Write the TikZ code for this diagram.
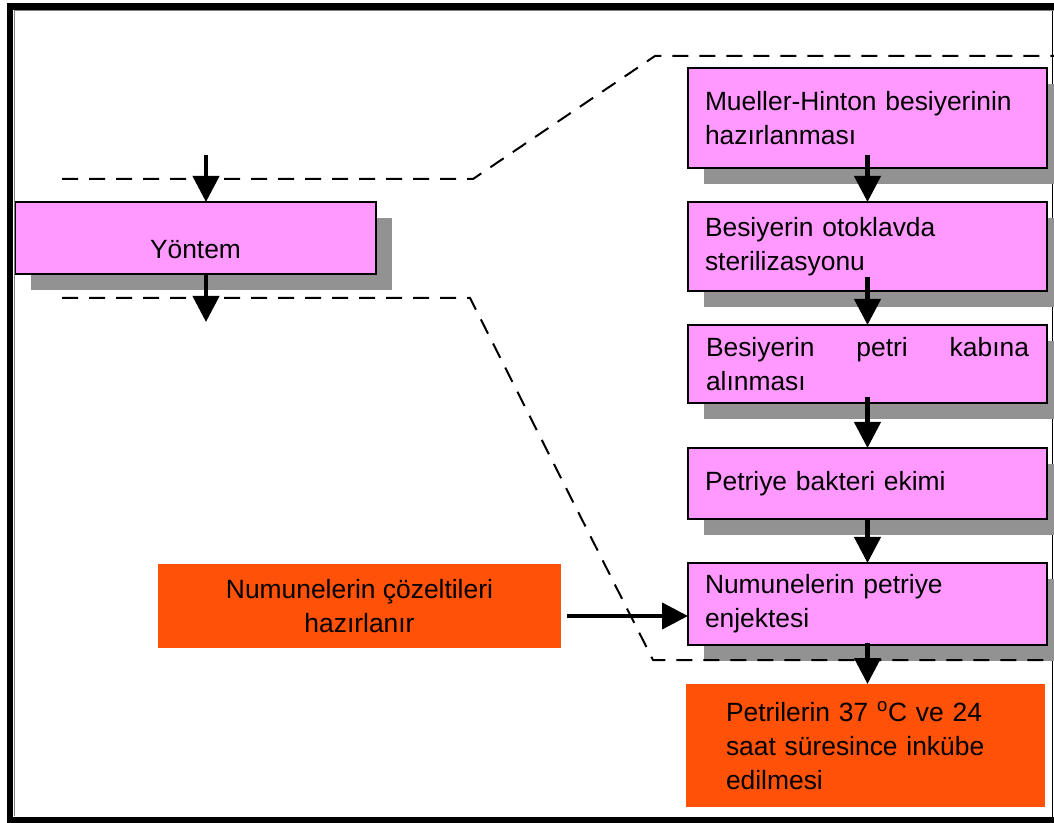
\documentclass[tikz,border=0pt]{standalone}
\usepackage{fontspec}
\setmainfont{Liberation Sans}
\usetikzlibrary{arrows.meta,backgrounds}
\definecolor{boxpink}{RGB}{255,153,255}
\definecolor{boxshadow}{RGB}{146,146,146}
\definecolor{boxorange}{RGB}{255,81,7}
\begin{document}
\begin{tikzpicture}[x=0.75pt,y=-0.75pt,
  every node/.style={font=\fontsize{19.8pt}{25.5pt}\selectfont, inner sep=0pt, outer sep=0pt},
  pinkbox/.style={draw=black, line width=1.5pt, fill=boxpink, anchor=north west},
  stepcol/.style={pinkbox, minimum width=359*0.75pt, text width=325*0.75pt, align=left},
  orangebox/.style={fill=boxorange, anchor=north west},
  flow/.style={line width=3.2pt, -{Triangle[width=19.5pt,length=19.5pt]}},
  guide/.style={line width=1.5pt, dash pattern=on 12pt off 8.25pt},
]
\useasboundingbox (0,0) rectangle (1054,823);
\clip (0,0) rectangle (1054,823);

% step boxes of the procedure
\node[stepcol, minimum height=100*0.75pt] (b1) at (688,68) {Mueller-Hinton besiyerinin\\hazırlanması};
\node[stepcol, minimum height=89*0.75pt] (b2) at (688,202) {Besiyerin otoklavda\\sterilizasyonu};
\node[pinkbox, minimum width=359*0.75pt, minimum height=78*0.75pt, text width=323*0.75pt, align=justify] (b3) at (688,325) {Besiyerin petri kabına\linebreak alınması};
\node[stepcol, minimum height=71*0.75pt] (b4) at (688,448) {Petriye bakteri ekimi};
\node[stepcol, minimum height=82*0.75pt] (b5) at (688,563) {Numunelerin petriye\\enjektesi};

% method box
\node[pinkbox, minimum width=361*0.75pt, minimum height=72*0.75pt, text height=45*0.75pt, text depth=3*0.75pt] (yontem) at (15,202) {Yöntem};

% orange boxes
\node[orangebox, minimum width=403*0.75pt, minimum height=84*0.75pt, align=center] (prep) at (158,564) {Numunelerin çözeltileri\\hazırlanır};
\node[orangebox, minimum width=359*0.75pt, minimum height=123*0.75pt, text width=279*0.75pt, align=left] (incub) at (686,684) {Petrilerin 37 \textsuperscript{o}C ve 24\\saat süresince inkübe\\edilmesi};

% white page, right frame edge and drop shadows
\begin{scope}[on background layer]
  \fill[white] (0,0) rectangle (1054,823);
  \draw[line width=1.2pt] (1052.5,10) -- (1052.5,817);
  \foreach \b in {yontem,b1,b2,b3,b4,b5}
    \fill[boxshadow] ([shift={(16,16)}]\b.north west) rectangle ([shift={(16,16)}]\b.south east);
\end{scope}

% outer frame
\draw[line width=6.5*0.75pt] (1060,6.5) -- (10,6.5) -- (10,820) -- (1060,820);
\draw[gray, line width=0.75pt] (14,11) -- (1054,11);
\draw[gray, line width=0.75pt] (14.5,11) -- (14.5,816);

% dashed zoom-out guides
\draw[guide] (62,179) -- (473,179) -- (655,56) -- (1060,56);
\draw[guide] (62,298) -- (470,298) -- (653,660) -- (1060,660);

% arrows
\coordinate (yin) at (206,155);
\coordinate (yout) at (206,322);
\draw[flow] (yin) -- (yin |- yontem.north);
\draw[flow] (yontem.south -| yout) -- (yout);
\draw[flow] ([yshift=13*0.75pt]b1.south) -- (b2.north);
\draw[flow] ([yshift=14*0.75pt]b2.south) -- (b3.north);
\draw[flow] ([yshift=6*0.75pt]b3.south) -- (b4.north);
\draw[flow] (b4.south) -- (b5.north);
\draw[flow] ([yshift=2*0.75pt]b5.south) -- (incub.north -| b5.south);
\coordinate (pout) at ([shift={(6,10)}]prep.east);
\draw[flow] (pout) -- (pout -| b5.west);
\end{tikzpicture}
\end{document}
